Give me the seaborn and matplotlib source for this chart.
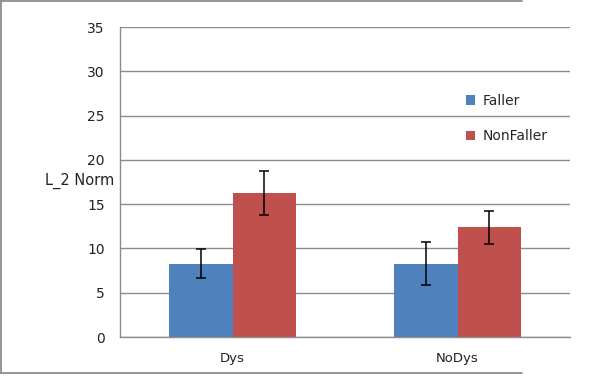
import pandas as pd
import matplotlib.pyplot as plt
import seaborn as sns
from matplotlib.lines import Line2D

# values
groups = ['Dys', 'NoDys']
series = ['Faller', 'NonFaller']
faller_means = [8.3, 8.3]
nonfaller_means = [16.3, 12.4]
faller_err = [1.65, 2.45]
nonfaller_err = [2.5, 1.85]
y_ticks = [0, 5, 10, 15, 20, 25, 30, 35]

colors = {'Faller': '#4F81BD', 'NonFaller': '#C0504D'}

df = pd.DataFrame({
    'Group': groups * 2,
    'Series': ['Faller'] * len(groups) + ['NonFaller'] * len(groups),
    'Value': faller_means + nonfaller_means,
    'Err': faller_err + nonfaller_err,
})

sns.set_style('white')
plt.rcParams['font.family'] = ['DejaVu Sans']

fig = plt.figure(figsize=(6, 3.77), dpi=100)
ax = fig.add_axes([0.2, 0.106, 0.75, 0.822])

sns.barplot(data=df, x='Group', y='Value', hue='Series', palette=colors,
            width=0.565, gap=0, errorbar=None, saturation=1, ax=ax,
            edgecolor='none', linewidth=0)

# error bars at bar centers
for cont, s in zip(ax.containers, series):
    errs = df[df['Series'] == s]['Err'].values
    for bar, e in zip(cont, errs):
        xc = bar.get_x() + bar.get_width() / 2
        ax.errorbar(xc, bar.get_height(), yerr=e, fmt='none', ecolor='black',
                    elinewidth=1.1, capsize=3.5, capthick=1.1, zorder=4)

ax.set_ylim(0, 35)
ax.set_yticks(y_ticks)
ax.set_xlim(-0.5, 1.5)
ax.yaxis.grid(True, color='#8c8c8c', linewidth=1)
ax.set_axisbelow(True)

for side in ['top', 'right']:
    ax.spines[side].set_visible(False)
for side in ['left', 'bottom']:
    ax.spines[side].set_color('#8c8c8c')
    ax.spines[side].set_linewidth(1)

# tick marks on category boundaries for x
ax.set_xticks([0, 1])
ax.set_xticklabels(groups, fontsize=9.5, color='#222222')
ax.set_xticks([-0.5, 0.5, 1.5], minor=True)
ax.tick_params(axis='x', which='major', length=0, pad=11)
ax.tick_params(axis='x', which='minor', length=5, color='#8c8c8c', direction='out')
ax.tick_params(axis='y', length=5, color='#8c8c8c', direction='out', labelsize=10,
               labelcolor='#222222', pad=6)

ax.set_xlabel('')
ax.set_ylabel('L_2 Norm', rotation=0, fontsize=10.5, color='#222222',
              ha='right', va='center')
ax.yaxis.set_label_coords(-0.012, 0.503)

ax.legend(loc='upper left', bbox_to_anchor=(0.74, 0.825), frameon=False,
          fontsize=10, handlelength=0.7, handleheight=0.7, labelspacing=1.55,
          handletextpad=0.5)

# screenshot frame
frame_kw = dict(color='#8c8c8c', linewidth=1.3, transform=fig.transFigure)
fig.add_artist(Line2D([0.002, 0.002], [0.01, 0.997], **frame_kw))
fig.add_artist(Line2D([0.0, 0.87], [0.997, 0.997], **frame_kw))
fig.add_artist(Line2D([0.0, 0.87], [0.011, 0.011], **frame_kw))

fig.savefig('out.png', dpi=100)
plt.close(fig)
